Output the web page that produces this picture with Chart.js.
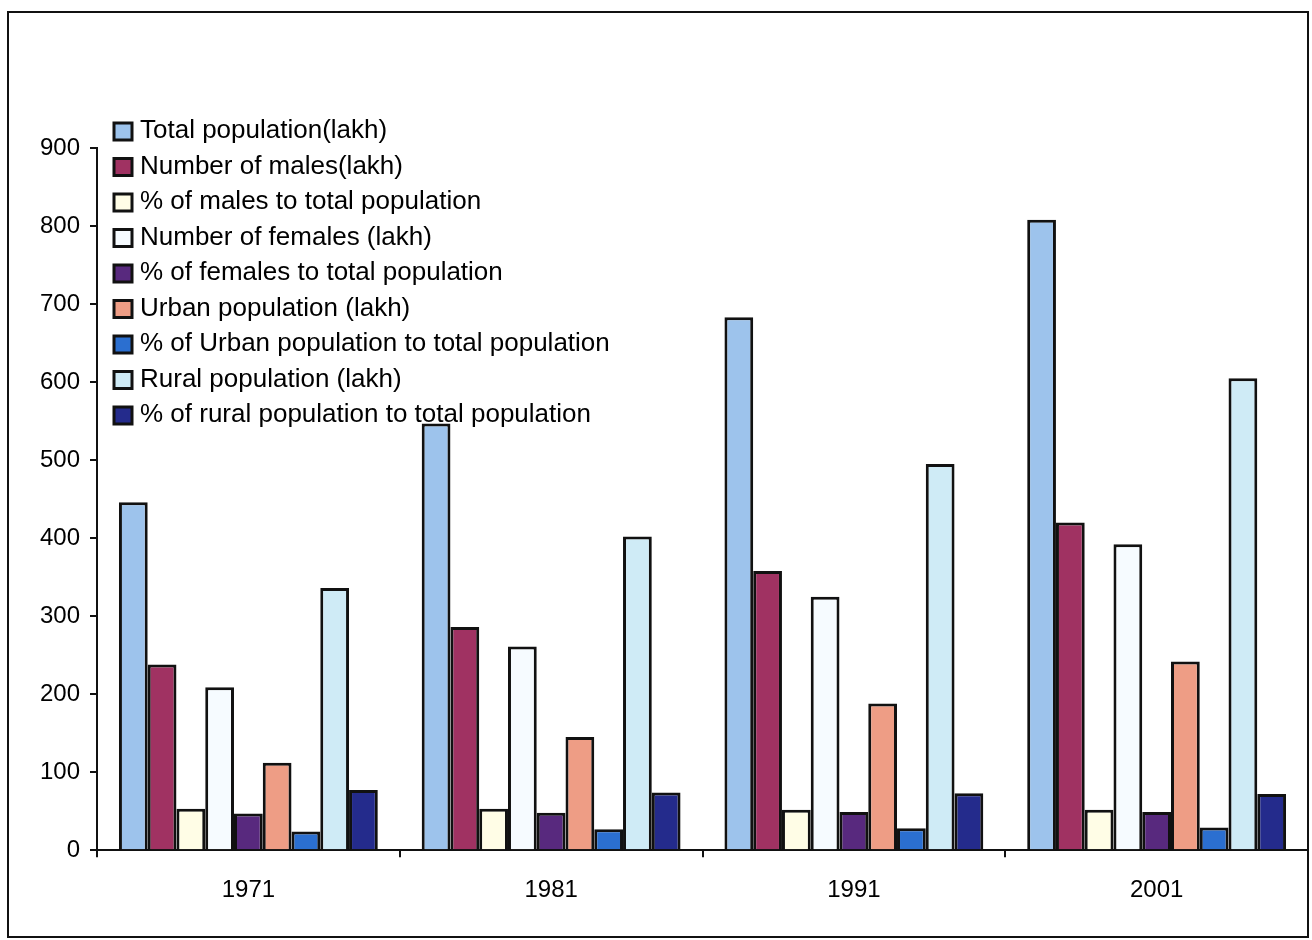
<!DOCTYPE html>
<html>
<head>
<meta charset="utf-8">
<script src="https://cdn.jsdelivr.net/npm/chart.js@4"></script>
<style>
  html, body { margin: 0; background: #fff; }
  canvas { display: block; }
</style>
</head>
<body>
<canvas id="popChart" width="1312" height="940"></canvas>
<script>
const years = ['1971', '1981', '1991', '2001'];
const yTicks = [0, 100, 200, 300, 400, 500, 600, 700, 800, 900];

const totalPop = [446, 547, 683, 808];
const males = [238, 286, 358, 420];
const pctMales = [53, 53, 52, 52];
const females = [209, 261, 325, 392];
const pctFemales = [47, 48, 49, 49];
const urban = [112, 145, 188, 242];
const pctUrban = [24, 27, 28, 29];
const rural = [336, 402, 495, 605];
const pctRural = [77, 74, 73, 72];

const seriesNames = [
  'Total population(lakh)',
  'Number of males(lakh)',
  '% of males to total population',
  'Number of females (lakh)',
  '% of females to total population',
  'Urban population (lakh)',
  '% of Urban population to total population',
  'Rural population (lakh)',
  '% of rural population to total population'
];
const seriesData = [totalPop, males, pctMales, females, pctFemales, urban, pctUrban, rural, pctRural];
const seriesColors = ['#9dc3ec', '#a03262', '#fffde6', '#f6fbff', '#58297e', '#ee9d85', '#2b6fd0', '#cfebf6', '#242b8c'];

const FONT = '"Liberation Sans", Arial, sans-serif';

// frame around the whole picture + the legend drawn over the plot
const overlay = {
  id: 'overlay',
  afterDraw(chart) {
    const ctx = chart.ctx;
    ctx.save();
    ctx.strokeStyle = '#111';
    ctx.lineWidth = 2;
    ctx.strokeRect(8, 12, 1300, 925);

    ctx.font = '26px ' + FONT;
    ctx.textBaseline = 'middle';
    chart.data.datasets.forEach((ds, i) => {
      const y = 131 + i * 35.5;
      ctx.fillStyle = ds.backgroundColor;
      ctx.fillRect(114, y - 8, 18, 17);
      ctx.lineWidth = 3;
      ctx.strokeStyle = '#111';
      ctx.strokeRect(114, y - 8, 18, 17);
      ctx.fillStyle = '#000';
      ctx.fillText(ds.label, 140, y);
    });
    ctx.restore();
  }
};

const chart = new Chart(document.getElementById('popChart'), {
  type: 'bar',
  data: {
    labels: years,
    datasets: seriesNames.map((name, i) => ({
      label: name,
      data: seriesData[i],
      backgroundColor: seriesColors[i],
      borderColor: '#111',
      borderWidth: { top: 3, left: 3, right: 3, bottom: 0 },
      borderSkipped: false,
      inflateAmount: 0,
      categoryPercentage: 0.855,
      barPercentage: 1.0
    }))
  },
  options: {
    responsive: false,
    animation: false,
    layout: { padding: { top: 148, right: 4, bottom: 16, left: 0 } },
    plugins: {
      legend: { display: false },
      tooltip: { enabled: false }
    },
    scales: {
      x: {
        grid: { drawOnChartArea: false, tickLength: 7, color: '#111', lineWidth: 2 },
        border: { color: '#111', width: 2 },
        ticks: { color: '#000', font: { family: FONT, size: 24 }, padding: 19 }
      },
      y: {
        min: 0,
        max: 900,
        afterBuildTicks: s => { s.ticks = yTicks.map(v => ({ value: v })); },
        afterFit: s => { s.width = 97; },
        grid: { drawOnChartArea: false, tickLength: 7, color: '#111', lineWidth: 2 },
        border: { color: '#111', width: 2 },
        ticks: { color: '#000', font: { family: FONT, size: 24 }, padding: 10 }
      }
    }
  },
  plugins: [overlay]
});
</script>
</body>
</html>
